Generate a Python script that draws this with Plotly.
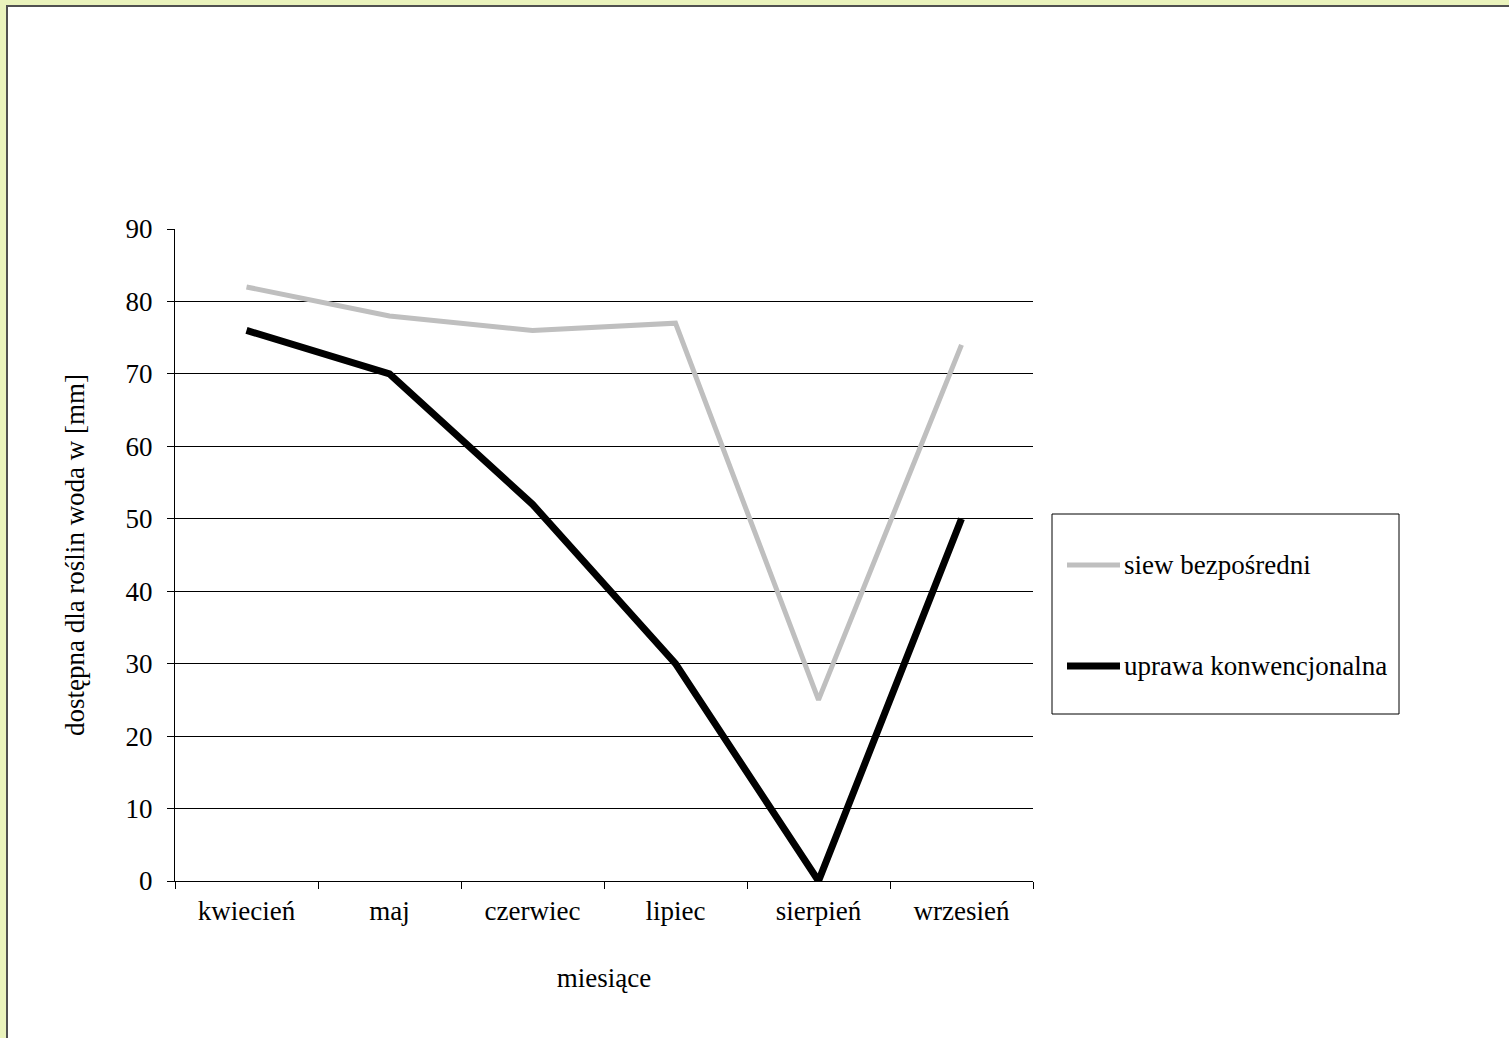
import plotly.graph_objects as go

# Monthly plant-available soil water [mm] under two tillage systems
months = ["kwiecień", "maj", "czerwiec", "lipiec", "sierpień", "wrzesień"]
siew_bezposredni = [82, 78, 76, 77, 25, 74]
uprawa_konwencjonalna = [76, 70, 52, 30, 0, 50]
y_ticks = [0, 10, 20, 30, 40, 50, 60, 70, 80, 90]

W, H = 1509, 1038
L, R, T, B = 175, 1033, 229, 881  # plot area edges in pixels


def px_x(px):
    return (px - L) / (R - L)


def px_y(py):
    return (B - py) / (B - T)


FONT = "Liberation Serif, Times New Roman, serif"
FS = 27

series = [
    ("siew bezpośredni", siew_bezposredni, "#bfbfbf", 5),
    ("uprawa konwencjonalna", uprawa_konwencjonalna, "#000000", 7),
]

fig = go.Figure()
for name, vals, color, width in series:
    fig.add_trace(go.Scatter(
        x=months, y=vals, mode="lines", name=name,
        line=dict(color=color, width=width), showlegend=False,
    ))

# chart frame: light yellow margin with dark edge, white sheet inside
fig.add_shape(type="rect", xref="paper", yref="paper", layer="below",
              x0=px_x(7), x1=px_x(W + 10), y0=px_y(6), y1=px_y(H + 10),
              fillcolor="white", line=dict(color="#505050", width=2))

# boxed legend to the right of the plot, entries spaced apart
fig.add_shape(type="rect", xref="paper", yref="paper",
              x0=px_x(1052), x1=px_x(1399), y0=px_y(514), y1=px_y(714),
              fillcolor="white", line=dict(color="#000000", width=1))
for i, (name, vals, color, width) in enumerate(series):
    ky = px_y(565 + 101 * i)
    fig.add_shape(type="line", xref="paper", yref="paper",
                  x0=px_x(1067), x1=px_x(1120), y0=ky, y1=ky,
                  line=dict(color=color, width=width))
    fig.add_annotation(xref="paper", yref="paper", x=px_x(1122), y=ky,
                       xanchor="left", yanchor="middle", showarrow=False,
                       text=name, font=dict(family=FONT, size=FS, color="black"))

fig.update_layout(
    width=W, height=H,
    margin=dict(l=L, r=W - R, t=T, b=H - B, pad=0),
    paper_bgcolor="#eaf3bc",
    plot_bgcolor="rgba(0,0,0,0)",
    font=dict(family=FONT, size=FS, color="black"),
    showlegend=False,
    xaxis=dict(
        type="category", range=[-0.5, 5.5], showgrid=False,
        showline=True, linecolor="black", linewidth=1,
        ticks="outside", ticklen=7, tickcolor="black", tickson="boundaries",
        ticklabelstandoff=6,
        title=dict(text="miesiące", standoff=42, font=dict(family=FONT, size=FS)),
        tickfont=dict(family=FONT, size=FS), fixedrange=True,
    ),
    yaxis=dict(
        range=[0, 90], tickvals=y_ticks, showgrid=True, gridcolor="#000000", gridwidth=1,
        showline=True, linecolor="black", linewidth=1, zeroline=False,
        ticks="outside", ticklen=7, tickcolor="black", ticklabelstandoff=9,
        title=dict(text="dostępna dla roślin woda w [mm]", standoff=33,
                   font=dict(family=FONT, size=FS)),
        tickfont=dict(family=FONT, size=FS), fixedrange=True,
    ),
)

fig.write_html("out.html")
